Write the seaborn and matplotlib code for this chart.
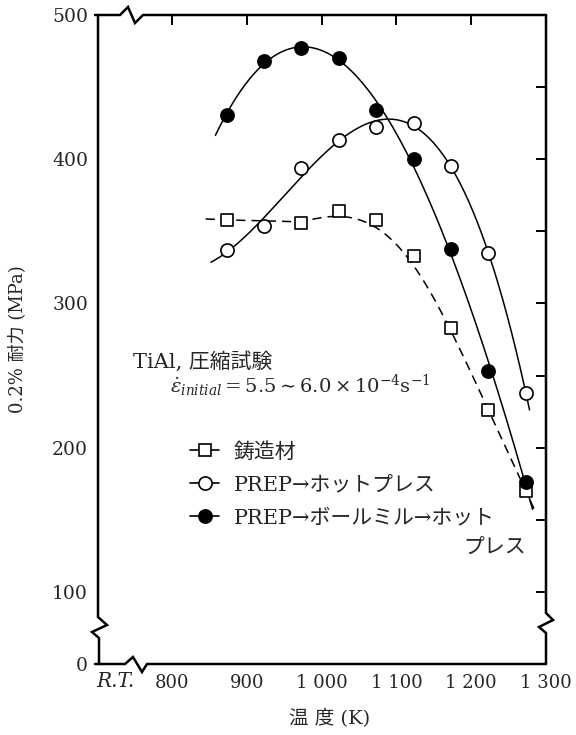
import numpy as np
import pandas as pd
import matplotlib
matplotlib.use("Agg")
import matplotlib.pyplot as plt
import seaborn as sns
from matplotlib.lines import Line2D

# ---- data ----
temp_ball = [873, 923, 973, 1023, 1073, 1123, 1173, 1223, 1273]
ys_ball = [431, 468, 477, 470, 434, 400, 338, 253, 176]
temp_prep = [873, 923, 973, 1023, 1073, 1123, 1173, 1223, 1273]
ys_prep = [337, 354, 394, 413, 422, 425, 395, 335, 238]
temp_cast = [873, 973, 1023, 1073, 1123, 1173, 1223, 1273]
ys_cast = [358, 356, 364, 358, 333, 283, 226, 170]

curve_span_ball = [858, 1282]
curve_span_prep = [852, 1278]
curve_span_cast = [845, 1285]

labels = ["鋳造材", "PREP→ホットプレス", "PREP→ボールミル→ホット"]
x_ticks = [800, 900, 1000, 1100, 1200, 1300]
x_ticklabels = ["800", "900", "1 000", "1 100", "1 200", "1 300"]
y_ticks = [50, 100, 200, 300, 400, 500]
y_ticklabels = ["0", "100", "200", "300", "400", "500"]
y_minor = [150, 250, 350, 450]

sns.set_style("white")
FAM = ["DejaVu Serif", "Noto Sans CJK JP"]
plt.rcParams["font.family"] = FAM
plt.rcParams["mathtext.fontset"] = "dejavuserif"

fig = plt.figure(figsize=(5.76, 7.35), dpi=100)
ax = fig.add_axes([95 / 576, 1 - 664 / 735, 451 / 576, 649 / 735])
ax.set_xlim(697, 1300)
ax.set_ylim(50, 500)


def fit_poly(x, y, span, deg):
    c = np.polyfit(x, y, deg)
    xs = np.linspace(span[0], span[1], 300)
    return pd.DataFrame({"T": xs, "S": np.polyval(c, xs)})


def fit_local(x, y, span, h):
    # local linear regression with gaussian weights (smooth trend line)
    x = np.asarray(x, float)
    y = np.asarray(y, float)
    xs = np.linspace(span[0], span[1], 300)
    out = []
    for x0 in xs:
        w = np.exp(-0.5 * ((x - x0) / h) ** 2) + 1e-9
        c = np.polyfit(x - x0, y, 1, w=np.sqrt(w))
        out.append(c[1])
    return pd.DataFrame({"T": xs, "S": out})


c_ball = fit_poly(temp_ball, ys_ball, curve_span_ball, 3)
c_prep = fit_poly(temp_prep, ys_prep, curve_span_prep, 4)
c_cast = fit_local(temp_cast, ys_cast, curve_span_cast, 38)

sns.lineplot(data=c_ball, x="T", y="S", ax=ax, color="black", lw=1.1, zorder=2)
sns.lineplot(data=c_prep, x="T", y="S", ax=ax, color="black", lw=1.1, zorder=2)
sns.lineplot(data=c_cast, x="T", y="S", ax=ax, color="black", lw=1.1,
             linestyle=(0, (6, 4)), zorder=2)

sns.scatterplot(x=temp_cast, y=ys_cast, ax=ax, marker="s", s=64,
                facecolor="white", edgecolor="black", linewidth=1.2, zorder=3)
sns.scatterplot(x=temp_prep, y=ys_prep, ax=ax, marker="o", s=90,
                facecolor="white", edgecolor="black", linewidth=1.2, zorder=3)
sns.scatterplot(x=temp_ball, y=ys_ball, ax=ax, marker="o", s=90,
                facecolor="black", edgecolor="black", linewidth=1.2, zorder=4)

# ticks
ax.set_xticks(x_ticks)
ax.set_xticklabels(x_ticklabels, fontsize=13)
ax.set_yticks(y_ticks)
ax.set_yticklabels(y_ticklabels, fontsize=13.5)
ax.set_yticks(y_minor, minor=True)
ax.tick_params(which="both", direction="in", top=True, right=True,
               length=7, width=1.4, color="black")
ax.tick_params(axis="x", pad=7)
ax.tick_params(axis="y", pad=5)
ax.set_xlabel("温 度 (K)", fontsize=14)
ax.set_ylabel("0.2% 耐力 (MPa)", fontsize=13)
ax.xaxis.set_label_coords(0.519, -0.07)
ax.yaxis.set_label_coords(-0.152, 0.5)

# spines with break marks
for s in ax.spines.values():
    s.set_visible(False)
kw = dict(transform=ax.transAxes, color="black", lw=1.8, clip_on=False,
          solid_joinstyle="miter", zorder=5)
W, H = 451.0, 649.0
ax.plot([0, 30 / W, 38 / W, 47 / W, 52 / W, 1],
        [0, 0, 7 / H, -8 / H, 0, 0], **kw)
ax.plot([0, 25 / W, 33 / W, 40 / W, 48 / W, 1],
        [1, 1, 1 + 8 / H, 1 - 8 / H, 1, 1], **kw)
ax.plot([3 / W, 3 / W, 12 / W, -3 / W, 4 / W, 4 / W],
        [1, 47 / H, 39 / H, 32 / H, 26 / H, 0], **kw)
ax.plot([1, 1, 1 + 7 / W, 1 - 7 / W, 1, 1],
        [1, 51 / H, 44 / H, 37 / H, 31 / H, 0], **kw)

ax.text(20 / W, -0.012, "R.T.", transform=ax.transAxes, ha="center",
        va="top", fontsize=14.5, style="italic")

# annotation
ax.text(38 / W, (664 - 362) / H, "TiAl, 圧縮試験", transform=ax.transAxes,
        ha="left", va="center", fontsize=15)
ax.text(75 / W, (664 - 386) / H,
        r"$\dot{\varepsilon}_{initial}=5.5\sim6.0\times10^{-4}\mathrm{s}^{-1}$",
        transform=ax.transAxes, ha="left", va="center", fontsize=14)

# legend
handles = [
    Line2D([], [], color="black", lw=1.2, marker="s", ms=8.5,
           mfc="white", mec="black", mew=1.2),
    Line2D([], [], color="black", lw=1.2, marker="o", ms=9.5,
           mfc="white", mec="black", mew=1.2),
    Line2D([], [], color="black", lw=1.2, marker="o", ms=9.5,
           mfc="black", mec="black", mew=1.2),
]
ax.legend(handles, labels, loc="upper left",
          bbox_to_anchor=(95 / W, (664 - 442) / H), frameon=False,
          prop={"family": FAM, "size": 15}, handlelength=1.4,
          handletextpad=0.7, labelspacing=0.66, borderaxespad=0,
          borderpad=0)
ax.text((463 - 95) / W, (664 - 547) / H, "プレス", transform=ax.transAxes,
        ha="left", va="center", fontsize=15)

fig.savefig("out.png", dpi=100)
